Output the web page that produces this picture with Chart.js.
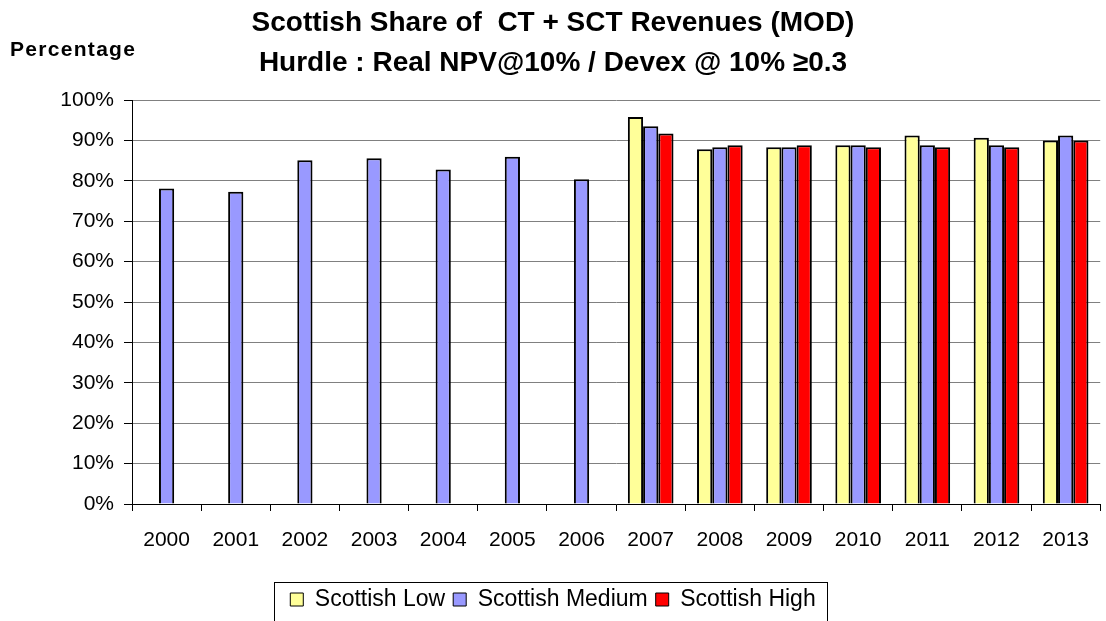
<!DOCTYPE html>
<html>
<head>
<meta charset="utf-8">
<script src="https://cdn.jsdelivr.net/npm/chart.js@4.4.0/dist/chart.umd.min.js"></script>
<style>
  body { margin: 0; background: #fff; }
  #wrap { width: 1106px; height: 621px; position: relative; }
</style>
</head>
<body>
<div id="wrap"><canvas id="grafico" width="1106" height="621"></canvas></div>
<script>
const anios = ['2000', '2001', '2002', '2003', '2004', '2005', '2006', '2007', '2008', '2009', '2010', '2011', '2012', '2013'];
const scot_low = [null, null, null, null, null, null, null, 95.8, 87.8, 88.3, 88.8, 91.2, 90.7, 90.0];
const scot_medium = [78.1, 77.3, 85.1, 85.6, 82.8, 86.0, 80.4, 93.5, 88.3, 88.3, 88.8, 88.8, 88.8, 91.2];
const scot_high = [null, null, null, null, null, null, null, 91.7, 88.8, 88.8, 88.3, 88.3, 88.3, 90.0];
const titulo = ['Scottish Share of  CT + SCT Revenues (MOD)', 'Hurdle : Real NPV@10% / Devex @ 10% \u22650.3'];

const fuente = "'Liberation Sans', Arial, sans-serif";

// texto "Percentage" arriba a la izquierda y marco de la leyenda
const extras = {
    id: 'extras',
    afterDraw(chart) {
        const c = chart.ctx;
        c.save();
        c.fillStyle = '#000';
        c.font = 'bold 21px ' + fuente;
        c.letterSpacing = '1.3px';
        c.textBaseline = 'middle';
        c.fillText('Percentage', 10, 50);
        c.letterSpacing = '0px';
        const cajas = chart.legend.legendHitBoxes;
        const izq = Math.min(...cajas.map(b => b.left)) - 16;
        const der = Math.max(...cajas.map(b => b.left + b.width)) + 12;
        const arriba = chart.legend.top + 2;
        c.strokeStyle = '#000';
        c.lineWidth = 1;
        c.strokeRect(Math.round(izq) + 0.5, arriba + 0.5, Math.round(der - izq), 60);
        c.restore();
    }
};

const ctx = document.getElementById('grafico').getContext('2d');
const grafico = new Chart(ctx, {
    type: 'bar',
    data: {
        labels: anios,
        datasets: [
            { label: 'Scottish Low', data: scot_low, backgroundColor: '#ffff99', borderColor: '#000', borderWidth: 2 },
            { label: 'Scottish Medium', data: scot_medium, backgroundColor: '#9999ff', borderColor: '#000', borderWidth: 2 },
            { label: 'Scottish High', data: scot_high, backgroundColor: '#ff0000', borderColor: '#000', borderWidth: 2 }
        ]
    },
    options: {
        responsive: false,
        animation: false,
        layout: { padding: { left: 0, right: 0, top: 0, bottom: 0 } },
        datasets: { bar: { barPercentage: 1, categoryPercentage: 0.66 } },
        plugins: {
            title: {
                display: true,
                text: titulo,
                color: '#000',
                font: { family: fuente, size: 28, weight: 'bold', lineHeight: 1.43 },
                padding: { top: 3, bottom: 17 }
            },
            legend: {
                position: 'bottom',
                labels: {
                    color: '#000',
                    font: { family: fuente, size: 23 },
                    boxWidth: 13,
                    boxHeight: 13,
                    padding: 8,
                    generateLabels(chart) {
                        return chart.data.datasets.map((ds, i) => ({
                            text: ds.label,
                            fillStyle: ds.backgroundColor,
                            strokeStyle: '#000',
                            lineWidth: 1,
                            datasetIndex: i
                        }));
                    }
                }
            },
            tooltip: { enabled: false }
        },
        scales: {
            x: {
                grid: { display: true, drawOnChartArea: false, offset: true, tickLength: 7, tickColor: '#000' },
                border: { color: '#000', width: 1 },
                ticks: { color: '#000', font: { family: fuente, size: 21 }, padding: 17, maxRotation: 0 },
                afterFit(scale) { scale.height = 76; }
            },
            y: {
                min: 0,
                max: 100,
                grid: { color: '#808080', lineWidth: 1, tickLength: 8, tickColor: '#000' },
                border: { color: '#000', width: 1 },
                ticks: {
                    stepSize: 10,
                    color: '#000',
                    font: { family: fuente, size: 21 },
                    padding: 10,
                    callback: v => v + '%'
                },
                afterFit(scale) { scale.width = 132; }
            }
        }
    },
    plugins: [extras]
});
</script>
</body>
</html>
